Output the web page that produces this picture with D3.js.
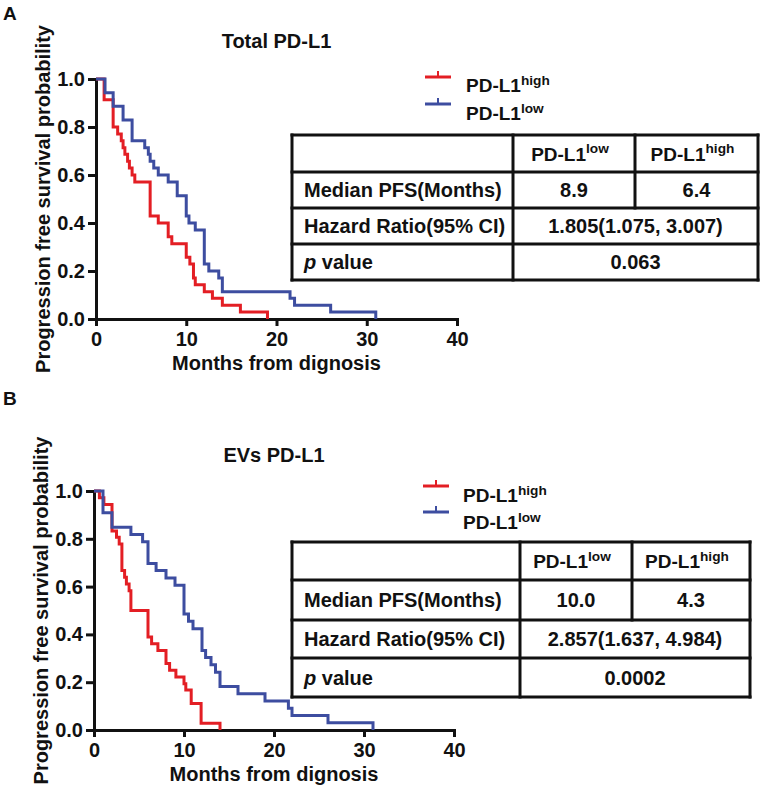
<!DOCTYPE html>
<html>
<head>
<meta charset="utf-8">
<script src="https://cdn.jsdelivr.net/npm/d3@7"></script>
<style>
  html, body { margin: 0; padding: 0; background: #fff; }
  svg { display: block; }
  text { font-family: "Liberation Sans", Arial, sans-serif; font-weight: bold; fill: #111; }
</style>
</head>
<body>
<div id="chart"></div>
<script>
// ---------------- DATA ----------------
const seriesNames = ["PD-L1high", "PD-L1low"];
const xTicks = [0, 10, 20, 30, 40];
const yTicks = [0.0, 0.2, 0.4, 0.6, 0.8, 1.0];
const xTitle = "Months from dignosis";
const yTitle = "Progression free survival probability";
const panelTitles = ["Total PD-L1", "EVs PD-L1"];
const panelLetters = ["A", "B"];

// Panel A – Total PD-L1 (event times in months, survival after each step)
const totalHighTimes = [0.9, 1.9, 2.4, 2.8, 3.0, 3.2, 3.5, 3.7, 4.0, 4.3, 6.0, 6.9, 8.0, 8.4, 10.0, 10.4, 10.8, 11.0, 12.0, 12.9, 14.0, 16.0, 19.0];
const totalHighSurv  = [0.914, 0.800, 0.771, 0.743, 0.714, 0.686, 0.657, 0.629, 0.600, 0.571, 0.429, 0.400, 0.343, 0.314, 0.257, 0.229, 0.171, 0.143, 0.114, 0.086, 0.057, 0.029, 0.0];
const totalLowTimes  = [1.0, 1.9, 3.0, 4.0, 5.4, 5.8, 6.0, 6.4, 6.9, 8.0, 9.0, 10.0, 10.3, 11.0, 12.0, 12.5, 13.6, 14.0, 21.5, 22.0, 26.0, 31.0];
const totalLowSurv   = [0.943, 0.886, 0.829, 0.743, 0.714, 0.686, 0.657, 0.629, 0.600, 0.571, 0.514, 0.429, 0.400, 0.371, 0.229, 0.200, 0.171, 0.114, 0.086, 0.057, 0.029, 0.0];

// Panel B – EVs PD-L1
const evsHighTimes = [0.6, 1.1, 2.0, 2.5, 2.8, 3.1, 3.4, 3.6, 3.9, 4.1, 6.0, 6.4, 7.1, 8.0, 8.4, 9.1, 10.0, 10.2, 10.8, 11.9, 14.0];
const evsHighSurv  = [0.972, 0.944, 0.833, 0.806, 0.778, 0.667, 0.639, 0.611, 0.583, 0.500, 0.389, 0.361, 0.333, 0.278, 0.250, 0.222, 0.194, 0.167, 0.111, 0.028, 0.0];
const evsLowTimes  = [1.0, 2.0, 4.1, 5.4, 6.0, 6.9, 8.0, 9.0, 10.0, 10.5, 11.0, 12.0, 12.4, 13.0, 13.5, 14.0, 16.0, 19.0, 21.6, 22.0, 26.0, 31.0];
const evsLowSurv   = [0.909, 0.848, 0.818, 0.788, 0.697, 0.667, 0.636, 0.606, 0.485, 0.455, 0.424, 0.333, 0.303, 0.273, 0.242, 0.182, 0.152, 0.121, 0.091, 0.061, 0.030, 0.0];

// Tables
const tableRowLabels = ["", "Median PFS(Months)", "Hazard Ratio(95% CI)", "p value"];
const tableColHeads = [["PD-L1", "low"], ["PD-L1", "high"]];
const totalMedian = ["8.9", "6.4"];
const totalHR = "1.805(1.075, 3.007)";
const totalP = "0.063";
const evsMedian = ["10.0", "4.3"];
const evsHR = "2.857(1.637, 4.984)";
const evsP = "0.0002";

// ---------------- LAYOUT ----------------
const W = 764, H = 793;
const RED = "#e31e24", BLUE = "#3d4da0";
const FS = 20;

const svg = d3.select("#chart").append("svg").attr("width", W).attr("height", H);

const panels = [
  {
    letter: panelLetters[0], title: panelTitles[0],
    letterY: 20, titleY: 48,
    x0: 96, x1: 457, yTop: 79, yBot: 319, yLabelX: 50,
    high: [totalHighTimes, totalHighSurv], low: [totalLowTimes, totalLowSurv],
    legend: { mx: 425, tx: 466, my: [77, 104], ty: [92, 120] },
    table: { rows: [135, 172, 208, 244, 280], cols: [292, 513, 635, 758],
             median: totalMedian, hr: totalHR, p: totalP }
  },
  {
    letter: panelLetters[1], title: panelTitles[1],
    letterY: 405, titleY: 462,
    x0: 94, x1: 454, yTop: 491, yBot: 730, yLabelX: 48,
    high: [evsHighTimes, evsHighSurv], low: [evsLowTimes, evsLowSurv],
    legend: { mx: 423, tx: 463, my: [486, 512], ty: [502, 529] },
    table: { rows: [542, 580, 620, 658, 697], cols: [292, 520, 632, 750],
             median: evsMedian, hr: evsHR, p: evsP }
  }
];

function supText(sel, base, sup, size) {
  sel.append("tspan").text(base);
  sel.append("tspan").attr("font-size", size * 0.72).attr("dy", -size * 0.38).text(sup);
}

panels.forEach(p => {
  const g = svg.append("g");
  const x = d3.scaleLinear().domain([0, 40]).range([p.x0, p.x1]);
  const y = d3.scaleLinear().domain([0, 1]).range([p.yBot, p.yTop]);

  // panel letter
  g.append("text").attr("x", 3).attr("y", p.letterY).attr("font-size", 19).text(p.letter);
  // title
  g.append("text").attr("x", (p.x0 + p.x1) / 2).attr("y", p.titleY)
    .attr("text-anchor", "middle").attr("font-size", FS).text(p.title);

  // axes
  const xAxis = g.append("g").attr("transform", `translate(0,${p.yBot})`)
    .call(d3.axisBottom(x).tickValues(xTicks).tickSize(7).tickSizeOuter(0).tickPadding(6)
      .tickFormat(d3.format("d")));
  const yAxis = g.append("g").attr("transform", `translate(${p.x0},0)`)
    .call(d3.axisLeft(y).tickValues(yTicks).tickSize(8).tickSizeOuter(0).tickPadding(3)
      .tickFormat(d3.format(".1f")));
  [xAxis, yAxis].forEach(a => {
    a.select(".domain").attr("stroke", "#111").attr("stroke-width", 3).attr("stroke-linecap", "square");
    a.selectAll(".tick line").attr("stroke", "#111").attr("stroke-width", 3);
    a.selectAll(".tick text").attr("font-size", FS).attr("fill", "#111")
      .attr("font-family", "Liberation Sans, Arial, sans-serif").attr("font-weight", "bold");
  });

  // axis titles
  g.append("text").attr("x", (p.x0 + p.x1) / 2).attr("y", p.yBot + 51)
    .attr("text-anchor", "middle").attr("font-size", FS).text(xTitle);
  g.append("text").attr("transform", `translate(${p.yLabelX},${(p.yTop + p.yBot) / 2}) rotate(-90)`)
    .attr("text-anchor", "middle").attr("font-size", FS).text(yTitle);

  // curves
  const line = d3.line().x(d => x(d[0])).y(d => y(d[1])).curve(d3.curveStepAfter);
  const toPts = (ts, ss) => [[0, 1]].concat(ts.map((t, i) => [t, ss[i]]));
  g.append("path").attr("d", line(toPts(p.high[0], p.high[1])))
    .attr("fill", "none").attr("stroke", RED).attr("stroke-width", 3);
  g.append("path").attr("d", line(toPts(p.low[0], p.low[1])))
    .attr("fill", "none").attr("stroke", BLUE).attr("stroke-width", 3);

  // legend
  const L = p.legend;
  [RED, BLUE].forEach((c, i) => {
    g.append("line").attr("x1", L.mx).attr("x2", L.mx + 26).attr("y1", L.my[i]).attr("y2", L.my[i])
      .attr("stroke", c).attr("stroke-width", 3);
    g.append("line").attr("x1", L.mx + 13).attr("x2", L.mx + 13).attr("y1", L.my[i]).attr("y2", L.my[i] - 6)
      .attr("stroke", c).attr("stroke-width", 2);
    const name = seriesNames[i];
    const t = g.append("text").attr("x", L.tx).attr("y", L.ty[i]).attr("font-size", 19);
    supText(t, name.slice(0, 5), name.slice(5), 19);
  });

  // table
  const T = p.table, R = T.rows, C = T.cols;
  const tg = g.append("g");
  const stroke = (x1, y1, x2, y2) => tg.append("line").attr("x1", x1).attr("y1", y1).attr("x2", x2).attr("y2", y2)
      .attr("stroke", "#111").attr("stroke-width", 3).attr("stroke-linecap", "square");
  R.forEach(ry => stroke(C[0], ry, C[3], ry));
  stroke(C[0], R[0], C[0], R[4]);
  stroke(C[1], R[0], C[1], R[4]);
  stroke(C[3], R[0], C[3], R[4]);
  stroke(C[2], R[0], C[2], R[2]);
  const rc = i => (R[i] + R[i + 1]) / 2 + 7;
  // headers
  tableColHeads.forEach((h, j) => {
    const t = tg.append("text").attr("x", (C[j + 1] + C[j + 2]) / 2 - 4).attr("y", rc(0))
      .attr("text-anchor", "middle").attr("font-size", 19);
    supText(t, h[0], h[1], 19);
  });
  // row labels
  tg.append("text").attr("x", C[0] + 12).attr("y", rc(1)).attr("font-size", FS).text(tableRowLabels[1]);
  tg.append("text").attr("x", C[0] + 12).attr("y", rc(2)).attr("font-size", FS).text(tableRowLabels[2]);
  const pv = tg.append("text").attr("x", C[0] + 12).attr("y", rc(3)).attr("font-size", FS);
  pv.append("tspan").attr("font-style", "italic").text(tableRowLabels[3].slice(0, 1));
  pv.append("tspan").text(tableRowLabels[3].slice(1));
  // values
  T.median.forEach((v, j) => {
    tg.append("text").attr("x", (C[j + 1] + C[j + 2]) / 2).attr("y", rc(1))
      .attr("text-anchor", "middle").attr("font-size", FS).text(v);
  });
  tg.append("text").attr("x", (C[1] + C[3]) / 2).attr("y", rc(2))
    .attr("text-anchor", "middle").attr("font-size", FS).text(T.hr);
  tg.append("text").attr("x", (C[1] + C[3]) / 2).attr("y", rc(3))
    .attr("text-anchor", "middle").attr("font-size", FS).text(T.p);
});
</script>
</body>
</html>
